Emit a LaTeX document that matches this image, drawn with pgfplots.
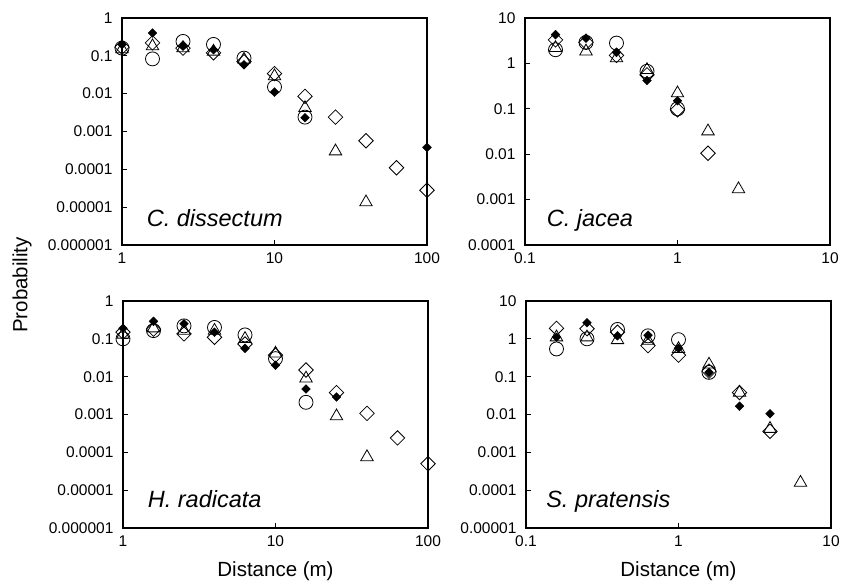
\documentclass[border=0pt]{standalone}
\usepackage{fontspec}
\setmainfont{Liberation Sans}
\usepackage{pgfplots}
\pgfplotsset{compat=1.18}
\tikzset{plabel/.style={anchor=base west, font=\fontsize{23.5}{26}\selectfont\itshape}}
\newcommand{\tlfont}{\fontsize{15.5}{17}\selectfont}
\pgfplotsset{
  panel/.style={
    scale only axis, width=305pt, height=227pt, anchor=south west,
    clip=false, axis line style={line width=1.1pt},
    /pgf/number format/assume math mode=true,
    tick align=inside, major tick length=5pt, minor tick num=0,
    xtick pos=bottom, ytick pos=left, xminorticks=false, yminorticks=false,
    tick style={line width=1pt, black},
    xticklabel style={font=\tlfont, yshift=-4pt},
    yticklabel style={font=\tlfont, xshift=-6pt},
    xlabel style={font=\fontsize{20.5}{22}\selectfont, yshift=-8pt},
  },
  circ/.style={only marks, mark=o, mark size=7pt, black, mark options={line width=0.8pt}},
  tri/.style={only marks, mark=triangle, mark size=7.2pt, black, mark options={line width=0.8pt}},
  odia/.style={only marks, mark=square, mark size=5.1pt, black, mark options={rotate=45, line width=0.8pt}},
  fdia/.style={only marks, mark=square*, mark size=3.1pt, black, mark options={rotate=45, line width=0.4pt}},
}
\begin{document}
\begin{tikzpicture}
\useasboundingbox (0,0) rectangle (844pt,586pt);
\node[rotate=90, font=\fontsize{20.5}{22}\selectfont] at (22pt,301pt) {Probability};

% ---------- Panel 1: C. dissectum ----------
\begin{loglogaxis}[panel, at={(122pt,341pt)},
  xmin=1, xmax=100, ymin=1e-6, ymax=1,
  xtick={1,10,100}, xticklabels={1,10,100},
  ytick={1e-6,1e-5,1e-4,1e-3,1e-2,1e-1,1},
  yticklabels={0.000001,0.00001,0.0001,0.001,0.01,0.1,1}]
\addplot[circ] coordinates {(1,0.16) (1.585,0.083) (2.512,0.24) (3.981,0.2) (6.310,0.087) (10,0.015) (15.85,0.0024)};
\addplot[tri] coordinates {(1,0.15) (1.585,0.18) (2.512,0.16) (3.981,0.13) (6.310,0.08) (10,0.029) (15.85,0.0042) (25.12,0.0003) (39.81,0.0000135)};
\addplot[odia] coordinates {(1,0.17) (1.585,0.22) (2.512,0.16) (3.981,0.12) (6.310,0.07) (10,0.034) (15.85,0.0085) (25.12,0.0024) (39.81,0.00057) (63.10,0.00011) (100,0.000028)};
\addplot[fdia] coordinates {(1,0.2) (1.585,0.4) (2.512,0.18) (3.981,0.145) (6.310,0.058) (10,0.011) (15.85,0.0023) (100,0.00038)};
\node[plabel] at (rel axis cs:0.07,0.08) {C. dissectum};
\end{loglogaxis}

% ---------- Panel 2: C. jacea ----------
\begin{loglogaxis}[panel, at={(525pt,341pt)},
  xmin=0.1, xmax=10, ymin=1e-4, ymax=10,
  xtick={0.1,1,10}, xticklabels={0.1,1,10},
  ytick={1e-4,1e-3,1e-2,1e-1,1,10},
  yticklabels={0.0001,0.001,0.01,0.1,1,10}]
\addplot[circ] coordinates {(0.1585,2.0) (0.2512,2.9) (0.3981,2.8) (0.6310,0.67) (1,0.1)};
\addplot[tri] coordinates {(0.1585,2.2) (0.2512,1.84) (0.3981,1.3) (0.6310,0.72) (1,0.22) (1.585,0.032) (2.512,0.0017)};
\addplot[odia] coordinates {(0.1585,3.3) (0.2512,2.9) (0.3981,1.5) (0.6310,0.56) (1,0.095) (1.585,0.0105)};
\addplot[fdia] coordinates {(0.1585,4.3) (0.2512,3.6) (0.3981,1.75) (0.6310,0.42) (1,0.15)};
\node[plabel] at (rel axis cs:0.06,0.08) {C. jacea};
\end{loglogaxis}

% ---------- Panel 3: H. radicata ----------
\begin{loglogaxis}[panel, at={(123pt,58pt)},
  xmin=1, xmax=100, ymin=1e-6, ymax=1,
  xtick={1,10,100}, xticklabels={1,10,100},
  ytick={1e-6,1e-5,1e-4,1e-3,1e-2,1e-1,1},
  yticklabels={0.000001,0.00001,0.0001,0.001,0.01,0.1,1},
  xlabel={Distance (m)}]
\addplot[circ] coordinates {(1,0.1) (1.585,0.165) (2.512,0.22) (3.981,0.2) (6.310,0.127) (10,0.03) (15.85,0.0021)};
\addplot[tri] coordinates {(1,0.13) (1.585,0.19) (2.512,0.165) (3.981,0.165) (6.310,0.1) (10,0.041) (15.85,0.009) (25.12,0.0009) (39.81,0.000075)};
\addplot[odia] coordinates {(1,0.15) (1.585,0.18) (2.512,0.135) (3.981,0.11) (6.310,0.073) (10,0.037) (15.85,0.015) (25.12,0.0038) (39.81,0.00107) (63.10,0.00024) (100,0.00005)};
\addplot[fdia] coordinates {(1,0.19) (1.585,0.29) (2.512,0.25) (3.981,0.15) (6.310,0.056) (10,0.02) (15.85,0.0047) (25.12,0.0029)};
\node[plabel] at (rel axis cs:0.07,0.09) {H. radicata};
\end{loglogaxis}

% ---------- Panel 4: S. pratensis ----------
\begin{loglogaxis}[panel, at={(526pt,58pt)},
  xmin=0.1, xmax=10, ymin=1e-5, ymax=10,
  xtick={0.1,1,10}, xticklabels={0.1,1,10},
  ytick={1e-5,1e-4,1e-3,1e-2,1e-1,1,10},
  yticklabels={0.00001,0.0001,0.001,0.01,0.1,1,10},
  xlabel={Distance (m)}]
\addplot[circ] coordinates {(0.1585,0.54) (0.2512,1.0) (0.3981,1.77) (0.6310,1.2) (1,0.95) (1.585,0.13)};
\addplot[tri] coordinates {(0.1585,1.1) (0.2512,1.1) (0.3981,0.93) (0.6310,0.9) (1,0.54) (1.585,0.21) (2.512,0.038) (3.981,0.0042) (6.310,0.000158)};
\addplot[odia] coordinates {(0.1585,1.9) (0.2512,1.85) (0.3981,1.5) (0.6310,0.66) (1,0.37) (1.585,0.14) (2.512,0.038) (3.981,0.0036)};
\addplot[fdia] coordinates {(0.1585,1.1) (0.2512,2.65) (0.3981,1.2) (0.6310,1.25) (1,0.56) (1.585,0.13) (2.512,0.0166) (3.981,0.0105)};
\node[plabel] at (rel axis cs:0.055,0.09) {S. pratensis};
\end{loglogaxis}
\end{tikzpicture}
\end{document}
